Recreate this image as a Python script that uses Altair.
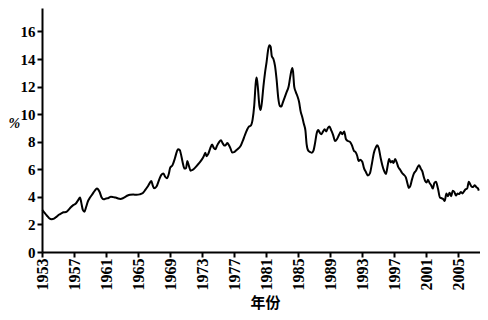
import altair as alt
import pandas as pd

years = [
    1953.05, 1953.3, 1953.6, 1953.9, 1954.2, 1954.5, 1954.8, 1955.1, 1955.4, 1955.7,
    1956.0, 1956.3, 1956.6, 1956.9, 1957.2, 1957.5, 1957.75, 1957.9, 1958.1, 1958.3,
    1958.5, 1958.75, 1959.0, 1959.3, 1959.6, 1959.85, 1960.0, 1960.2, 1960.45, 1960.7,
    1961.0, 1961.3, 1961.6, 1961.9, 1962.2, 1962.5, 1962.8, 1963.1, 1963.4, 1963.7,
    1964.0, 1964.4, 1964.8, 1965.2, 1965.6, 1965.9, 1966.2, 1966.45, 1966.65, 1966.85,
    1967.0, 1967.3, 1967.6, 1967.9, 1968.15, 1968.4, 1968.6, 1968.85, 1969.0, 1969.3,
    1969.6, 1969.85, 1970.0, 1970.2, 1970.35, 1970.55, 1970.8, 1971.0, 1971.15, 1971.35,
    1971.55, 1971.8, 1972.1, 1972.4, 1972.7, 1972.95, 1973.2, 1973.4, 1973.55, 1973.75,
    1974.0, 1974.25, 1974.45, 1974.65, 1974.85, 1975.1, 1975.35, 1975.55, 1975.8, 1976.0,
    1976.15, 1976.35, 1976.55, 1976.75, 1977.0, 1977.3, 1977.6, 1977.85, 1978.1, 1978.35,
    1978.6, 1978.85, 1979.05, 1979.3, 1979.5, 1979.7, 1979.8, 1979.95, 1980.15, 1980.3,
    1980.45, 1980.65, 1980.85, 1981.05, 1981.25, 1981.4, 1981.55, 1981.7, 1981.9, 1982.1,
    1982.3, 1982.5, 1982.7, 1982.9, 1983.05, 1983.3, 1983.55, 1983.8, 1984.0, 1984.25,
    1984.35, 1984.5, 1984.7, 1984.9, 1985.1, 1985.3, 1985.5, 1985.7, 1985.9, 1986.05,
    1986.25, 1986.5, 1986.7, 1986.9, 1987.1, 1987.3, 1987.5, 1987.7, 1987.9, 1988.1,
    1988.3, 1988.5, 1988.7, 1988.9, 1989.1, 1989.35, 1989.6, 1989.85, 1990.1, 1990.3,
    1990.5, 1990.75, 1990.95, 1991.2, 1991.45, 1991.7, 1991.95, 1992.15, 1992.35, 1992.55,
    1992.75, 1993.0, 1993.2, 1993.45, 1993.7, 1993.95, 1994.2, 1994.45, 1994.7, 1994.85,
    1995.05, 1995.3, 1995.5, 1995.75, 1995.95, 1996.15, 1996.35, 1996.55, 1996.75, 1996.9,
    1997.1, 1997.3, 1997.5, 1997.75, 1997.95, 1998.2, 1998.45, 1998.65, 1998.8, 1999.0,
    1999.2, 1999.45, 1999.7, 1999.95, 2000.1, 2000.3, 2000.5, 2000.7, 2000.85, 2001.05,
    2001.2, 2001.4, 2001.6, 2001.8, 2002.0, 2002.2, 2002.45, 2002.7, 2002.9, 2003.1,
    2003.3, 2003.5, 2003.7, 2003.9, 2004.1, 2004.3, 2004.5, 2004.7, 2004.9, 2005.1,
    2005.3, 2005.5, 2005.7, 2005.9, 2006.1, 2006.3, 2006.45, 2006.65, 2006.85, 2007.05,
    2007.25, 2007.45, 2007.55,
]

rates = [
    3.05, 2.85, 2.65, 2.45, 2.38, 2.42, 2.55, 2.70, 2.80, 2.88,
    2.90, 3.05, 3.25, 3.40, 3.50, 3.75, 3.95, 3.60, 3.05, 2.92,
    3.25, 3.70, 3.95, 4.20, 4.45, 4.60, 4.55, 4.35, 3.95, 3.82,
    3.88, 3.92, 4.00, 3.98, 3.95, 3.88, 3.85, 3.90, 4.00, 4.10,
    4.15, 4.17, 4.15, 4.18, 4.28, 4.50, 4.75, 5.00, 5.15, 4.80,
    4.62, 4.75, 5.20, 5.60, 5.70, 5.45, 5.35, 5.70, 6.10, 6.30,
    6.80, 7.30, 7.45, 7.40, 7.10, 6.55, 6.05, 6.10, 6.60, 6.25,
    5.90, 5.95, 6.10, 6.30, 6.50, 6.70, 6.95, 7.20, 6.95, 7.10,
    7.50, 7.80, 7.55, 7.45, 7.70, 7.95, 8.10, 7.90, 7.72, 7.80,
    7.90, 7.75, 7.50, 7.22, 7.25, 7.40, 7.55, 7.75, 8.10, 8.50,
    8.85, 9.10, 9.15, 9.60, 10.6, 12.3, 12.65, 12.0, 10.6, 10.3,
    10.8, 12.0, 13.0, 13.8, 14.7, 15.0, 14.9, 14.2, 14.0, 13.5,
    12.5, 11.2, 10.6, 10.55, 10.8, 11.2, 11.6, 12.0, 12.7, 13.35,
    13.1, 12.0, 11.6, 11.3, 10.9, 10.2, 9.8, 9.3, 8.8, 7.8,
    7.35, 7.25, 7.20, 7.35, 7.9, 8.6, 8.85, 8.65, 8.55, 8.75,
    8.90, 8.75, 9.0, 9.1, 8.85, 8.50, 8.05, 8.20, 8.50, 8.70,
    8.55, 8.75, 8.20, 8.05, 8.00, 7.75, 7.35, 7.25, 7.00, 6.60,
    6.70, 6.55, 6.10, 5.80, 5.55, 5.70, 6.40, 7.20, 7.60, 7.75,
    7.55, 6.80, 6.30, 5.85, 5.65, 6.20, 6.75, 6.50, 6.60, 6.45,
    6.75, 6.50, 6.15, 5.95, 5.75, 5.60, 5.40, 4.95, 4.65, 4.80,
    5.25, 5.70, 5.90, 6.20, 6.30, 6.05, 5.85, 5.40, 5.15, 5.05,
    5.25, 5.00, 4.85, 4.60, 5.00, 5.10, 4.60, 3.95, 3.90, 3.85,
    3.70, 4.25, 4.05, 4.30, 4.05, 4.45, 4.35, 4.10, 4.25, 4.20,
    4.35, 4.25, 4.40, 4.55, 4.60, 5.10, 4.95, 4.75, 4.72, 4.85,
    4.70, 4.60, 4.45,
]

x_ticks = [1953, 1957, 1961, 1965, 1969, 1973, 1977, 1981, 1985, 1989, 1993, 1997, 2001, 2005]
y_ticks = [0, 2, 4, 6, 8, 10, 12, 14, 16]

df = pd.DataFrame({"year": years, "rate": rates})

serif = "Liberation Serif, Times New Roman, serif"

chart = alt.Chart(df).mark_line(color="black", strokeWidth=2, interpolate="monotone").encode(
    x=alt.X(
        "year:Q",
        scale=alt.Scale(domain=[1953, 2007.7], nice=False, zero=False),
        axis=alt.Axis(
            values=x_ticks, format="d", labelAngle=270, title="年份",
            labelFontSize=16, labelPadding=1,
            titleFont="Noto Sans CJK SC", titleFontSize=15, titleFontWeight="bold",
            titleX=223, titleY=50, titleAnchor="middle", titleBaseline="middle",
            titleAlign="center",
        ),
    ),
    y=alt.Y(
        "rate:Q",
        scale=alt.Scale(domain=[0, 17.7], nice=False),
        axis=alt.Axis(
            values=y_ticks, title="%", titleAngle=0, titleFont=serif,
            labelFontSize=15, labelPadding=2,
            titleFontSize=14, titleFontStyle="italic", titleFontWeight="bold",
            titleX=-34, titleY=115, titleAlign="left", titleBaseline="middle",
        ),
    ),
).properties(
    width=438, height=244,
    autosize=alt.AutoSizeParams(type="none"),
    padding={"left": 34, "top": 0, "right": 0, "bottom": 60},
).configure_view(stroke=None).configure_axis(
    grid=False, domainColor="black", domainWidth=2, tickColor="black", tickWidth=2,
    tickSize=5, labelFont=serif, labelFontWeight="bold",
    labelColor="black", titleColor="black",
)

chart.save("out.html", embed_options={"renderer": "svg", "actions": False})
